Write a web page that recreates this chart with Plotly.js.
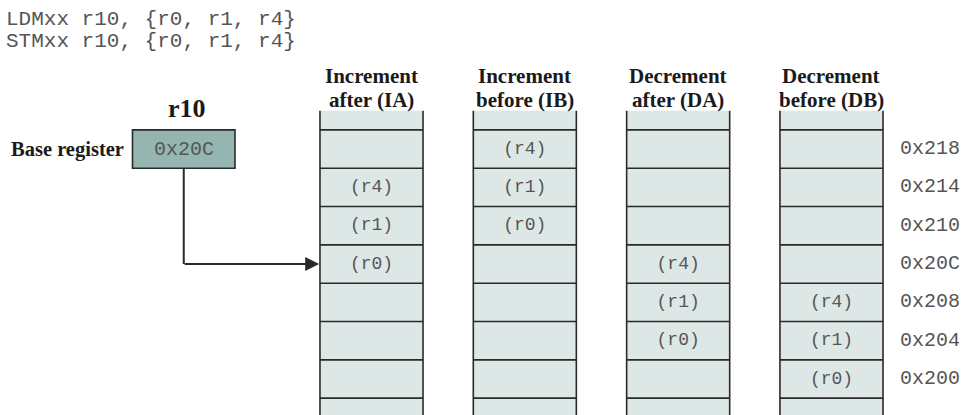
<!DOCTYPE html>
<html>
<head>
<meta charset="utf-8">
<script src="https://cdn.plot.ly/plotly-3.0.1.min.js"></script>
<style>html,body{margin:0;padding:0;background:#fff;}#chart{width:979px;height:415px;}</style>
</head>
<body>
<div id="chart"></div>
<script>
// ---- data ----
const codeLines = ['LDMxx r10, {r0, r1, r4}', 'STMxx r10, {r0, r1, r4}'];
const registerName = 'r10';
const registerLabel = 'Base register';
const baseValue = '0x20C';
const modeLine1 = ['Increment', 'Increment', 'Decrement', 'Decrement'];
const modeLine2 = ['after (IA)', 'before (IB)', 'after (DA)', 'before (DB)'];
const addresses = ['0x200', '0x204', '0x208', '0x20C', '0x210', '0x214', '0x218'];
const regList = ['r0', 'r1', 'r4'];
const iaSlots = ['0x20C', '0x210', '0x214'];
const ibSlots = ['0x210', '0x214', '0x218'];
const daSlots = ['0x204', '0x208', '0x20C'];
const dbSlots = ['0x200', '0x204', '0x208'];
const modeSlots = [iaSlots, ibSlots, daSlots, dbSlots];

// ---- layout helpers (column index on x, address index on y) ----
const colPx0 = 371.5, colStep = 153.33, rowPx0 = 379, rowStep = 38.33;
const X = px => (px - colPx0) / colStep;
const Y = px => (rowPx0 - px) / rowStep;
const halfW = 0.336;
const lineCol = '#2a2a2a';
const cellFill = '#dde8e6';
const regFill = '#95b6b0';
const monoCol = '#555';
const mono = 'Liberation Mono, Courier New, monospace';
const serif = 'Liberation Serif, Times New Roman, serif';

const shapes = [];
const annotations = [];
const topY = addresses.length;           // open top of columns
const botY = -1.6;                        // runs off the bottom

modeLine1.forEach((t, i) => {
  shapes.push({type: 'rect', xref: 'x', yref: 'y', x0: i - halfW, x1: i + halfW, y0: botY, y1: topY,
    fillcolor: cellFill, line: {width: 0}, layer: 'below'});
  for (let k = -1; k < addresses.length; k++) {
    shapes.push({type: 'line', xref: 'x', yref: 'y', x0: i - halfW, x1: i + halfW, y0: k + 0.5, y1: k + 0.5,
      line: {color: lineCol, width: 1.6}});
  }
  [i - halfW, i + halfW].forEach(xv => shapes.push({type: 'line', xref: 'x', yref: 'y', x0: xv, x1: xv,
    y0: botY, y1: topY, line: {color: lineCol, width: 1.6}}));
  annotations.push({xref: 'x', yref: 'y', x: i, y: Y(76), text: t, showarrow: false,
    font: {family: serif, size: 21, color: '#1a1a1a', weight: 'bold'}});
  annotations.push({xref: 'x', yref: 'y', x: i, y: Y(100), text: modeLine2[i], showarrow: false,
    font: {family: serif, size: 21, color: '#1a1a1a', weight: 'bold'}});
});

// register box (sits on the 0x218 row level)
const regRow = addresses.length - 1;
const regX0 = X(132.5), regX1 = X(235);
const regCx = (regX0 + regX1) / 2;
shapes.push({type: 'rect', xref: 'x', yref: 'y', x0: regX0, x1: regX1, y0: regRow - 0.5, y1: regRow + 0.5,
  fillcolor: regFill, line: {color: lineCol, width: 1.6}});
// pointer to base address
const baseRow = addresses.indexOf(baseValue);
shapes.push({type: 'line', xref: 'x', yref: 'y', x0: regCx, x1: regCx, y0: regRow - 0.5, y1: baseRow,
  line: {color: lineCol, width: 2}});
annotations.push({xref: 'x', yref: 'y', axref: 'x', ayref: 'y', x: -halfW - 0.005, y: baseRow,
  ax: regCx - 0.004, ay: baseRow, text: '', showarrow: true, arrowhead: 2, arrowsize: 1.4,
  arrowwidth: 2, arrowcolor: lineCol, standoff: 0, startstandoff: 0});

annotations.push({xref: 'x', yref: 'y', x: regCx + X(187) - X(184), y: Y(108), text: registerName, showarrow: false,
  font: {family: serif, size: 26, color: '#1a1a1a', weight: 'bold'}});
annotations.push({xref: 'x', yref: 'y', x: X(125.5), xanchor: 'right', y: regRow, text: registerLabel,
  showarrow: false, font: {family: serif, size: 20.5, color: '#1a1a1a', weight: 'bold'}});
annotations.push({xref: 'x', yref: 'y', x: regCx, y: regRow, text: baseValue, showarrow: false,
  font: {family: mono, size: 20, color: monoCol}});

// code lines
codeLines.forEach((c, j) => annotations.push({xref: 'x', yref: 'y', x: X(4), xanchor: 'left',
  y: Y(19 + 22 * j), text: c, showarrow: false, font: {family: mono, size: 21, color: monoCol}}));

// ---- traces ----
const cellX = [], cellY = [], cellT = [];
modeSlots.forEach((slots, i) => slots.forEach((a, r) => {
  cellX.push(i); cellY.push(addresses.indexOf(a)); cellT.push('(' + regList[r] + ')');
}));
const traces = [
  {type: 'scatter', mode: 'text', x: cellX, y: cellY, text: cellT, textposition: 'middle center',
    textfont: {family: mono, size: 18, color: monoCol}, hoverinfo: 'skip', showlegend: false},
  {type: 'scatter', mode: 'text', x: addresses.map(() => X(900)), y: addresses.map((a, k) => k),
    text: addresses, textposition: 'middle right', textfont: {family: mono, size: 20, color: monoCol},
    hoverinfo: 'skip', showlegend: false}
];

const layout = {
  width: 979, height: 415, margin: {l: 0, r: 0, t: 0, b: 0},
  paper_bgcolor: '#fff', plot_bgcolor: '#fff', showlegend: false,
  xaxis: {range: [X(0), X(979)], visible: false, fixedrange: true},
  yaxis: {range: [Y(415), Y(0)], visible: false, fixedrange: true},
  shapes: shapes, annotations: annotations
};
Plotly.newPlot('chart', traces, layout, {displayModeBar: false, staticPlot: true});
</script>
</body>
</html>
